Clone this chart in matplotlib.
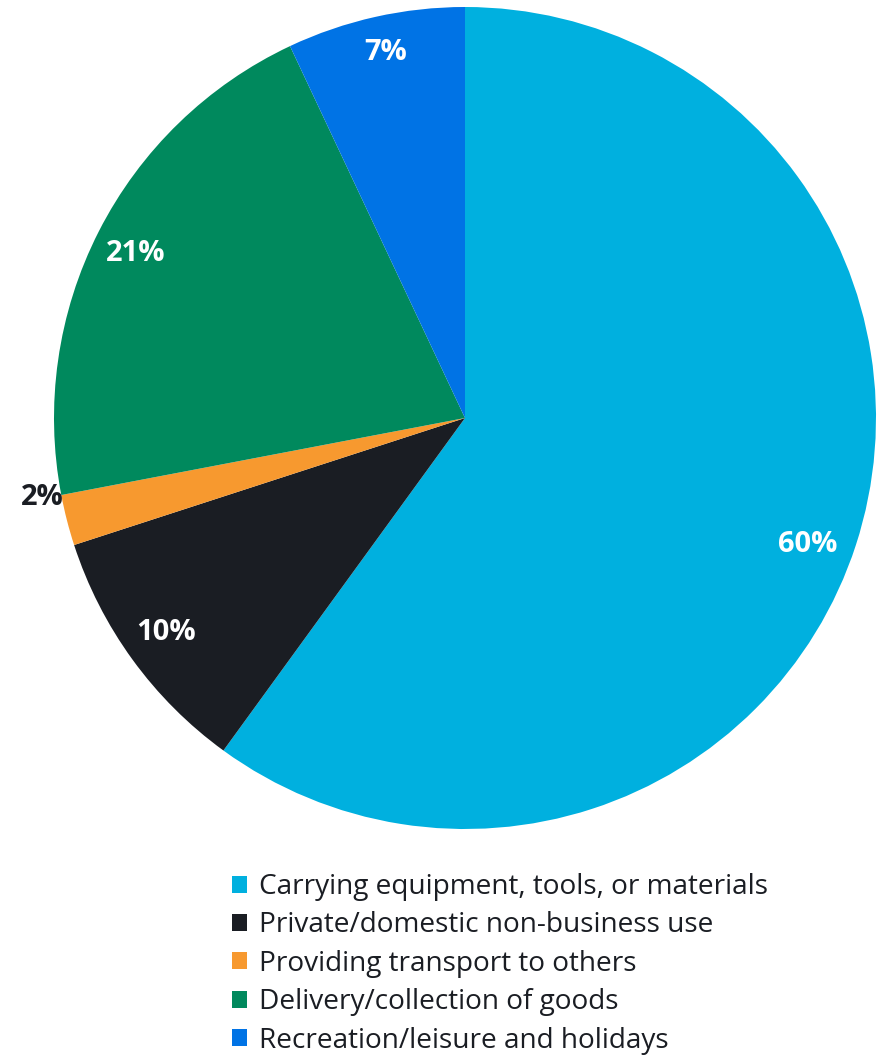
import matplotlib
matplotlib.use('Agg')
import matplotlib.pyplot as plt
import numpy as np

plt.rcParams['font.family'] = ['Open Sans', 'DejaVu Sans']

labels = ['Carrying equipment, tools, or materials',
          'Private/domestic non-business use',
          'Providing transport to others',
          'Delivery/collection of goods',
          'Recreation/leisure and holidays']
shares = [60, 10, 2, 21, 7]
colors = ['#00B0DF', '#1A1D23', '#F7992F', '#00895D', '#0073E5']

fig = plt.figure(figsize=(8.85, 10.56), dpi=100)
ax = fig.add_axes([54/885, 227/1056, 822/885, 822/1056])

wedges, _ = ax.pie(shares, colors=colors, startangle=90, counterclock=False,
                   radius=1.0, wedgeprops=dict(linewidth=0))
ax.set_xlim(-1, 1)
ax.set_ylim(-1, 1)
ax.set_aspect('equal')
ax.axis('off')

# label placement: (radius, angle nudge in degrees) per slice
place = [(0.89, -2.3), (0.895, -0.4), (1.046, 0.0), (0.895, 0.5), (0.91, -0.3)]
for w, v, (r, nudge) in zip(wedges, shares, place):
    mid = (w.theta1 + w.theta2) / 2 + nudge
    col = 'white'
    if v < 5:
        # thin slice: label sits outside, level with its upper edge
        mid = min(w.theta1, w.theta2) - 0.2
        col = '#1A1D23'
    ang = np.deg2rad(mid)
    ax.text(r*np.cos(ang), r*np.sin(ang), f'{v}%', ha='center', va='center',
            color=col, fontsize=21, fontweight='bold')

fig.legend(wedges, labels, loc='upper left', bbox_to_anchor=(232/885, 1-873/1056),
           frameon=False, fontsize=20.2, handlelength=0.55, handleheight=0.55,
           handletextpad=0.4, labelspacing=0.37, borderpad=0, borderaxespad=0,
           labelcolor='#1A1D23')

fig.savefig('out.png', dpi=100)
